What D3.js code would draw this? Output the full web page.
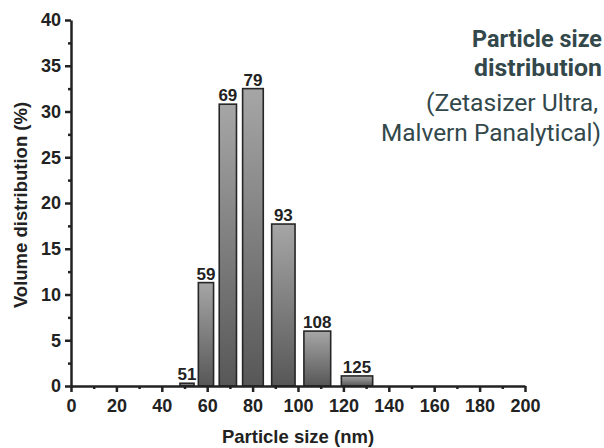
<!DOCTYPE html>
<html>
<head>
<meta charset="utf-8">
<script src="https://cdn.jsdelivr.net/npm/d3@7"></script>
<style>
  html, body { margin: 0; padding: 0; background: #fff; }
  svg { display: block; }
</style>
</head>
<body>
<svg id="chart" width="604" height="448"></svg>
<script>
// ---- data ----
const sizes    = [51, 59, 69, 79, 93, 108, 125];          // bar labels (nm)
const volumes  = [0.3, 11.3, 30.8, 32.5, 17.7, 6.0, 1.1]; // volume distribution (%)
const binStart = [48.0, 56.1, 65.3, 75.6, 88.4, 102.6, 119.1];
const binEnd   = [54.2, 62.8, 72.9, 84.7, 98.7, 114.4, 132.9];
const xTicks = [0, 20, 40, 60, 80, 100, 120, 140, 160, 180, 200];
const xMinor = [10, 30, 50, 70, 90, 110, 130, 150, 170, 190];
const yTicks = [0, 5, 10, 15, 20, 25, 30, 35, 40];
const yMinor = [2.5, 7.5, 12.5, 17.5, 22.5, 27.5, 32.5, 37.5];
const titleLines = ["Particle size", "distribution", "(Zetasizer Ultra,", "Malvern Panalytical)"];

const svg = d3.select("#chart");
const x = d3.scaleLinear().domain([0, 200]).range([71, 525]);
const y = d3.scaleLinear().domain([0, 40]).range([386, 20]);
const axisColor = "#222";
const font = "'Liberation Sans', Arial, sans-serif";

// gradient for bars
const defs = svg.append("defs");
const grad = defs.append("linearGradient").attr("id", "barGrad")
  .attr("x1", 0).attr("y1", 0).attr("x2", 0).attr("y2", 1);
grad.append("stop").attr("offset", "0%").attr("stop-color", "#a6a6a6");
grad.append("stop").attr("offset", "100%").attr("stop-color", "#575757");

const data = sizes.map((s, i) => ({ s, v: volumes[i], a: binStart[i], b: binEnd[i] }));

// bars
svg.append("g").selectAll("rect").data(data).join("rect")
  .attr("x", d => x(d.a))
  .attr("y", d => y(d.v))
  .attr("width", d => x(d.b) - x(d.a))
  .attr("height", d => y(0) - y(d.v))
  .attr("fill", "url(#barGrad)")
  .attr("stroke", "#262626")
  .attr("stroke-width", 1.6);

// bar labels
svg.append("g").selectAll("text").data(data).join("text")
  .attr("x", d => (x(d.a) + x(d.b)) / 2)
  .attr("y", d => y(d.v) - 3)
  .attr("text-anchor", "middle")
  .attr("font-family", font)
  .attr("font-weight", "bold")
  .attr("font-size", 17)
  .attr("fill", "#222")
  .text(d => d.s);

// axes
function styleAxis(g) {
  g.selectAll("path.domain").attr("stroke", axisColor).attr("stroke-width", 2.5);
  g.selectAll(".tick line").attr("stroke", axisColor).attr("stroke-width", 2.5);
  g.selectAll(".tick text").attr("fill", axisColor)
    .attr("font-family", font).attr("font-weight", "bold").attr("font-size", 18);
}

// minor ticks
svg.append("g").attr("transform", `translate(0,${y(0)})`)
  .call(d3.axisBottom(x).tickValues(xMinor).tickSize(3).tickSizeOuter(0).tickFormat(""))
  .call(g => g.select("path.domain").remove())
  .call(styleAxis);
svg.append("g").attr("transform", `translate(${x(0)},0)`)
  .call(d3.axisLeft(y).tickValues(yMinor).tickSize(3).tickSizeOuter(0).tickFormat(""))
  .call(g => g.select("path.domain").remove())
  .call(styleAxis);

// major axes
svg.append("g").attr("transform", `translate(0,${y(0)})`)
  .call(d3.axisBottom(x).tickValues(xTicks).tickSize(6).tickSizeOuter(0).tickPadding(7).tickFormat(d3.format("d")))
  .call(styleAxis);
svg.append("g").attr("transform", `translate(${x(0)},0)`)
  .call(d3.axisLeft(y).tickValues(yTicks).tickSize(6).tickSizeOuter(0).tickPadding(4).tickFormat(d3.format("d")))
  .call(styleAxis);

// axis titles
svg.append("text")
  .attr("x", (x(0) + x(200)) / 2).attr("y", 443)
  .attr("text-anchor", "middle")
  .attr("font-family", font).attr("font-weight", "bold").attr("font-size", 18.5)
  .attr("fill", axisColor)
  .text("Particle size (nm)");
svg.append("text")
  .attr("transform", `translate(27,205) rotate(-90)`)
  .attr("text-anchor", "middle")
  .attr("font-family", font).attr("font-weight", "bold").attr("font-size", 18.5)
  .attr("fill", axisColor)
  .text("Volume distribution (%)");

// title block (top right)
const tStyle = [
  { x: 472, y: 47,  len: 130, w: "bold" },
  { x: 474, y: 76,  len: 128, w: "bold" },
  { x: 426, y: 111, len: 172, w: "normal" },
  { x: 381, y: 141, len: 220, w: "normal" }
];
svg.append("g").selectAll("text").data(titleLines).join("text")
  .attr("x", (d, i) => tStyle[i].x)
  .attr("y", (d, i) => tStyle[i].y)
  .attr("textLength", (d, i) => tStyle[i].len)
  .attr("lengthAdjust", "spacingAndGlyphs")
  .attr("font-family", "Roboto, 'Open Sans', sans-serif")
  .attr("font-weight", (d, i) => tStyle[i].w)
  .attr("font-size", 23)
  .attr("fill", "#33484b")
  .text(d => d);
</script>
</body>
</html>
